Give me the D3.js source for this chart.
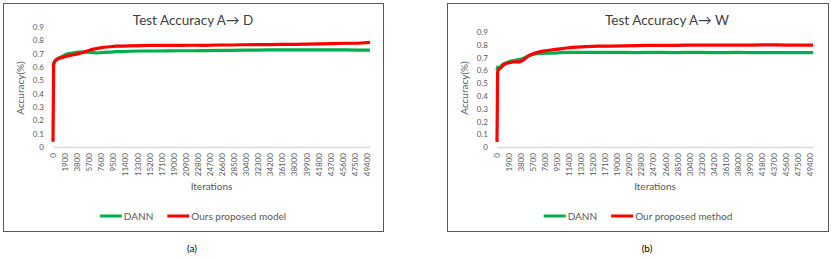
<!DOCTYPE html>
<html>
<head>
<meta charset="utf-8">
<script src="https://cdn.jsdelivr.net/npm/d3@7"></script>
<style>
  body { margin: 0; background: #fff; }
  svg { display: block; font-family: Lato, "Noto Sans", sans-serif; }
</style>
</head>
<body>
<div id="chart"></div>
<script>
const iterations = [0, 100, 300, 600, 1000, 1500, 2000, 2500, 3000, 3500, 4000, 5000, 6000, 7000, 8000, 9000, 10000,
    11000, 12000, 14000, 16000, 18000, 20000, 22000, 24000, 26000, 28000, 30000, 32000, 34000, 36000, 38000,
    40000, 42000, 44000, 46000, 48000, 49900];

// (a) A -> D
const dannAD = [0.60, 0.63, 0.645, 0.66, 0.67, 0.68, 0.695, 0.70, 0.705, 0.708, 0.712, 0.712, 0.71, 0.705, 0.71,
    0.712, 0.715, 0.716, 0.718, 0.72, 0.72, 0.721, 0.722, 0.722, 0.723, 0.724, 0.725, 0.727, 0.727, 0.728,
    0.728, 0.728, 0.729, 0.728, 0.728, 0.728, 0.727, 0.727];
const oursAD = [0.04, 0.62, 0.645, 0.655, 0.665, 0.672, 0.68, 0.685, 0.69, 0.695, 0.70, 0.715, 0.73, 0.74, 0.748,
    0.752, 0.757, 0.757, 0.758, 0.76, 0.763, 0.762, 0.762, 0.763, 0.762, 0.765, 0.765, 0.767, 0.768, 0.768,
    0.77, 0.77, 0.772, 0.773, 0.775, 0.778, 0.778, 0.785];

// (b) A -> W
const dannAW = [0.60, 0.625, 0.62, 0.63, 0.65, 0.66, 0.67, 0.675, 0.68, 0.685, 0.69, 0.715, 0.728, 0.732, 0.735,
    0.735, 0.738, 0.74, 0.74, 0.74, 0.74, 0.74, 0.74, 0.739, 0.74, 0.74, 0.739, 0.74, 0.74, 0.739,
    0.739, 0.74, 0.739, 0.739, 0.738, 0.738, 0.738, 0.738];
const oursAW = [0.04, 0.59, 0.61, 0.62, 0.64, 0.655, 0.66, 0.665, 0.668, 0.665, 0.675, 0.715, 0.735, 0.748, 0.755,
    0.762, 0.768, 0.775, 0.78, 0.785, 0.79, 0.79, 0.792, 0.793, 0.795, 0.795, 0.796, 0.797, 0.797, 0.797,
    0.798, 0.798, 0.798, 0.799, 0.799, 0.798, 0.798, 0.797];

const xTickLabels = [0, 1900, 3800, 5700, 7600, 9500, 11400, 13300, 15200, 17100, 19000, 20900, 22800, 24700,
    26600, 28500, 30400, 32300, 34200, 36100, 38000, 39900, 41800, 43700, 45600, 47500, 49400];
const yTickLabels = [0, 0.1, 0.2, 0.3, 0.4, 0.5, 0.6, 0.7, 0.8, 0.9];

const green = '#00b050';
const red = '#ff0000';
const textColor = '#595959';

const svg = d3.select('#chart').append('svg')
    .attr('width', 831)
    .attr('height', 258);

const panels = [
    { box: [3, 3, 380, 228], plot: { left: 53, right: 370, top: 27, bottom: 147 },
      title: 'Test Accuracy A\u2192 D', titleX: 193, legendX: 193, caption: '(a)', captionX: 192, yLabelX: 24,
      series: [{ name: 'DANN', values: dannAD, color: green }, { name: 'Ours proposed model', values: oursAD, color: red }] },
    { box: [447, 3, 381, 228], plot: { left: 497, right: 813, top: 32, bottom: 147 },
      title: 'Test Accuracy A\u2192 W', titleX: 667, legendX: 638, caption: '(b)', captionX: 647, yLabelX: 468,
      series: [{ name: 'DANN', values: dannAW, color: green }, { name: 'Our proposed method', values: oursAW, color: red }] }
];

panels.forEach(drawPanel);

function drawPanel(p) {
    const g = svg.append('g');

    // panel frame
    g.append('rect')
        .attr('x', p.box[0] + 0.5)
        .attr('y', p.box[1] + 0.5)
        .attr('width', p.box[2])
        .attr('height', p.box[3])
        .attr('fill', 'none')
        .attr('stroke', '#595959')
        .attr('stroke-width', 1);

    const x = d3.scaleLinear().domain([0, 49900]).range([p.plot.left, p.plot.right]);
    const y = d3.scaleLinear().domain([0, 0.9]).range([p.plot.bottom, p.plot.top]);

    // y axis: labels only
    const yAxis = g.append('g')
        .attr('transform', `translate(${p.plot.left},0)`)
        .call(d3.axisLeft(y).tickValues(yTickLabels).tickSize(0).tickPadding(9).tickFormat(d => d === 0 ? '0' : d3.format('.1f')(d)));
    yAxis.select('.domain').remove();
    yAxis.selectAll('text').attr('fill', textColor).attr('font-size', 8).attr('font-family', 'Lato, "Noto Sans", sans-serif');

    // x axis line + rotated labels
    const xAxis = g.append('g')
        .attr('transform', `translate(0,${p.plot.bottom})`)
        .call(d3.axisBottom(x).tickValues(xTickLabels).tickSize(0).tickFormat(d => d));
    xAxis.select('.domain').attr('stroke', '#d9d9d9').attr('stroke-width', 1.5);
    xAxis.selectAll('text')
        .attr('fill', textColor)
        .attr('font-size', 8)
        .attr('font-family', 'Lato, "Noto Sans", sans-serif')
        .attr('text-anchor', 'end')
        .attr('dy', '0.32em')
        .attr('transform', 'translate(0,6) rotate(-90)')
        .attr('y', 0)
        .attr('x', 0);

    // lines
    const line = d3.line()
        .x((d, i) => x(iterations[i]))
        .y(d => y(d));

    p.series.forEach(s => {
        g.append('path')
            .datum(s.values)
            .attr('fill', 'none')
            .attr('stroke', s.color)
            .attr('stroke-width', 3.2)
            .attr('stroke-linejoin', 'round')
            .attr('d', line);
    });

    // title
    g.append('text')
        .attr('x', p.titleX)
        .attr('y', 25)
        .attr('text-anchor', 'middle')
        .attr('fill', '#404040')
        .attr('font-size', 13.5)
        .text(p.title);

    // axis titles
    g.append('text')
        .attr('transform', `translate(${p.yLabelX},88) rotate(-90)`)
        .attr('text-anchor', 'middle')
        .attr('fill', textColor)
        .attr('font-size', 10)
        .text('Accuracy(%)');

    g.append('text')
        .attr('x', (p.plot.left + p.plot.right) / 2)
        .attr('y', 190)
        .attr('text-anchor', 'middle')
        .attr('fill', textColor)
        .attr('font-size', 10)
        .text('Iterations');

    // legend, centred on legendX
    const legend = g.append('g');
    let cx = 0;
    p.series.forEach((s, i) => {
        legend.append('line')
            .attr('x1', cx).attr('x2', cx + 22)
            .attr('y1', 0).attr('y2', 0)
            .attr('stroke', s.color)
            .attr('stroke-width', 3);
        const t = legend.append('text')
            .attr('x', cx + 24)
            .attr('y', 3.5)
            .attr('fill', textColor)
            .attr('font-size', 10)
            .text(s.name);
        cx += 24 + t.node().getComputedTextLength() + 14;
    });
    const w = cx - 14;
    legend.attr('transform', `translate(${p.legendX - w / 2},216)`);

    // caption
    g.append('text')
        .attr('x', p.captionX)
        .attr('y', 252)
        .attr('text-anchor', 'middle')
        .attr('fill', '#000')
        .attr('font-size', 10)
        .text(p.caption);
}
</script>
</body>
</html>
